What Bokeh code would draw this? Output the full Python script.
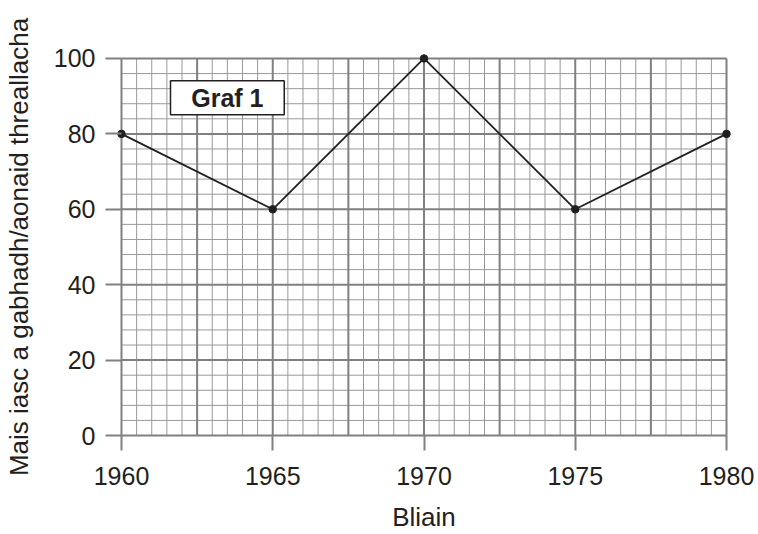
import numpy as np
from bokeh.plotting import figure
from bokeh.models import Range1d, FixedTicker, BoxAnnotation, Label
from bokeh.embed import file_html
from bokeh.resources import INLINE

# ---- data ----
years = [1960, 1965, 1970, 1975, 1980]
fish_catch = [80, 60, 100, 60, 80]
x_ticks = [1960, 1965, 1970, 1975, 1980]
y_ticks = [0, 20, 40, 60, 80, 100]
x_label = "Bliain"
y_label = "Mais iasc a gabhadh/aonaid threallacha"
graph_title = "Graf 1"

# ---- layout / style ----
X0, X1, Y0, Y1 = 1960, 1980, 0, 100
PAD_X, PAD_Y = 0.198, 1.587
FONT = "Liberation Sans"
INK = "#231f20"
GRID_MINOR = "#999999"
GRID_MAJOR = "#808080"

p = figure(width=758, height=534, output_backend="svg", toolbar_location=None,
           x_range=Range1d(X0 - PAD_X, X1 + PAD_X),
           y_range=Range1d(Y0 - PAD_Y, Y1 + PAD_Y),
           min_border_left=115, min_border_right=26,
           min_border_top=52, min_border_bottom=92)
p.grid.visible = False
p.outline_line_color = None
p.background_fill_color = "white"
p.border_fill_color = "white"

# graph-paper grid (0.5 yr / 4 units minor, 2.5 yr / 20 units major)
vx = [X0 + 0.5 * i for i in range(41)]
hy = [Y0 + 4 * j for j in range(26)]
minor_v = [x for i, x in enumerate(vx) if i % 5 != 0]
major_v = [x for i, x in enumerate(vx) if i % 5 == 0]
minor_h = [y for j, y in enumerate(hy) if j % 5 != 0]
major_h = [y for j, y in enumerate(hy) if j % 5 == 0]

p.segment(x0=minor_v, y0=[Y0] * len(minor_v), x1=minor_v, y1=[Y1] * len(minor_v),
          line_color=GRID_MINOR, line_width=1)
p.segment(x0=[X0] * len(minor_h), y0=minor_h, x1=[X1] * len(minor_h), y1=minor_h,
          line_color=GRID_MINOR, line_width=1)
p.segment(x0=major_v, y0=[Y0] * len(major_v), x1=major_v, y1=[Y1] * len(major_v),
          line_color=GRID_MAJOR, line_width=2)
p.segment(x0=[X0] * len(major_h), y0=major_h, x1=[X1] * len(major_h), y1=major_h,
          line_color=GRID_MAJOR, line_width=2)

# data
p.line(years, fish_catch, line_color=INK, line_width=1.8)
p.scatter(years, fish_catch, size=7.5, fill_color=INK, line_color=INK)

# axes
for ax in (p.xaxis[0], p.yaxis[0]):
    ax.axis_line_color = None
    ax.minor_tick_line_color = None
    ax.major_tick_line_color = GRID_MAJOR
    ax.major_tick_line_width = 2
    ax.major_label_text_font = FONT
    ax.major_label_text_font_size = "25px"
    ax.major_label_text_color = INK
    ax.axis_label_text_font = FONT
    ax.axis_label_text_font_size = "26px"
    ax.axis_label_text_font_style = "normal"
    ax.axis_label_text_color = INK

p.xaxis.ticker = FixedTicker(ticks=x_ticks)
p.xaxis.major_label_overrides = {t: str(t) for t in x_ticks}
p.xaxis.major_tick_in = 6
p.xaxis.major_tick_out = 9
p.xaxis.major_label_standoff = 16
p.xaxis.axis_label = x_label
p.xaxis.axis_label_standoff = 14

p.yaxis.ticker = FixedTicker(ticks=y_ticks)
p.yaxis.major_label_overrides = {t: str(t) for t in y_ticks}
p.yaxis.major_tick_in = 6
p.yaxis.major_tick_out = 10
p.yaxis.major_label_standoff = 10
p.yaxis.axis_label = y_label
p.yaxis.axis_label_standoff = 17

# "Graf 1" boxed label
box = BoxAnnotation(left=1961.62, right=1965.38, bottom=85.1, top=94.1,
                    fill_color="white", fill_alpha=1.0,
                    line_color=INK, line_width=1.5, line_alpha=1.0)
p.add_layout(box)
p.add_layout(Label(x=1963.5, y=89.6, text=graph_title, text_font=FONT,
                   text_font_style="bold", text_font_size="25px",
                   text_color=INK, text_align="center", text_baseline="middle"))

open("out.html", "w").write(file_html(p, INLINE))
